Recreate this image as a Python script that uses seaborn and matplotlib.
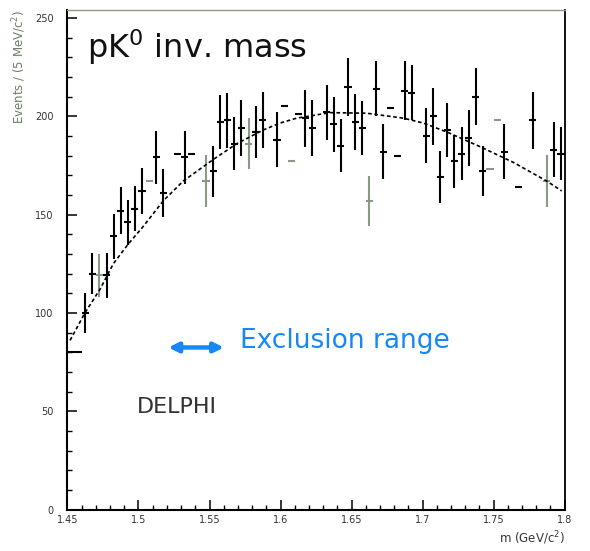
import numpy as np
import pandas as pd
import matplotlib
matplotlib.use("Agg")
import matplotlib.pyplot as plt
from matplotlib.ticker import MultipleLocator, FuncFormatter
import seaborn as sns

# ---- data ----
mass = [1.4525, 1.4575, 1.4625, 1.4675, 1.4725, 1.4775, 1.4825, 1.4875, 1.4925, 1.4975,
        1.5025, 1.5075, 1.5125, 1.5175, 1.5275, 1.5325, 1.5375, 1.5475, 1.5525, 1.5575,
        1.5625, 1.5675, 1.5725, 1.5775, 1.5825, 1.5875, 1.5975, 1.6025, 1.6075, 1.6125,
        1.6175, 1.6225, 1.6325, 1.6375, 1.6425, 1.6475, 1.6525, 1.6575, 1.6625, 1.6675,
        1.6725, 1.6775, 1.6825, 1.6875, 1.6925, 1.7025, 1.7075, 1.7125, 1.7175, 1.7225,
        1.7275, 1.7325, 1.7375, 1.7425, 1.7475, 1.7525, 1.7575, 1.7675, 1.7775, 1.7875,
        1.7925, 1.7975]
events = [80, 80, 100, 120, 119, 119, 139, 152, 146, 153,
          162, 167, 179, 161, 181, 179, 181, 167, 172, 197,
          198, 186, 194, 186, 192, 198, 188, 205, 177, 201,
          199, 194, 202, 196, 185, 215, 197, 194, 157, 214,
          182, 204, 180, 213, 212, 190, 200, 169, 193, 177,
          181, 189, 210, 172, 173, 198, 182, 164, 198, 167,
          183, 181]
errors = [0, 0, 10.2, 10.4, 11.0, 11.2, 11.5, 12.0, 11.5, 11.3,
          11.5, 0, 13.3, 12.3, 0, 13.5, 0, 13.3, 12.9, 13.6,
          14.0, 13.6, 14.2, 12.9, 13.3, 14.3, 14.0, 0, 0, 0,
          14.5, 14.2, 14.0, 14.0, 13.4, 14.8, 14.2, 13.9, 12.6, 14.0,
          14.0, 0, 0, 14.9, 14.0, 14.0, 14.5, 13.2, 13.9, 13.6,
          13.6, 14.1, 14.6, 12.8, 0, 0, 14.0, 0, 14.5, 13.3,
          14.0, 13.6]
faint_bins = [1.4725, 1.5075, 1.5475, 1.5775, 1.6075, 1.6625, 1.7475, 1.7525, 1.7875]

fit_mass = [1.4518, 1.4623, 1.4729, 1.4823, 1.4928, 1.5034, 1.5175, 1.5315, 1.5527, 1.5692,
            1.5879, 1.5997, 1.6114, 1.6349, 1.6607, 1.6865, 1.7006, 1.7170, 1.7405, 1.7640,
            1.7875, 1.7980]
fit_events = [86, 100, 112, 125, 135, 144, 157, 167, 178, 186,
              193, 196.5, 199, 201.8, 201.5, 199, 196.5, 192, 184.5, 176.5,
              167, 162]

x_ticks = [1.45, 1.5, 1.55, 1.6, 1.65, 1.7, 1.75, 1.8]
y_ticks = [0, 50, 100, 150, 200, 250]

# ---- style ----
sns.set_theme(style="white")
plt.rcParams["font.family"] = ["DejaVu Sans"]

FAINT = "#8a9a82"
BLUE = "#1787f5"

fig = plt.figure(figsize=(5.9, 5.51), dpi=100)
ax = fig.add_axes([0.1144, 0.0753, 0.8424, 0.9066])

df = pd.DataFrame({"mass": mass, "events": events, "err": errors})
df["faint"] = df["mass"].isin(faint_bins)

for is_faint, col in [(False, "black"), (True, FAINT)]:
    d = df[df["faint"] == is_faint]
    ax.errorbar(d["mass"], d["events"], xerr=0.0025, yerr=d["err"], fmt="none",
                ecolor=col, elinewidth=1.5, capsize=0, zorder=3)

sns.lineplot(x=fit_mass, y=fit_events, ax=ax, color="black", lw=1.2,
             linestyle=(0, (2.2, 1.6)), zorder=4)

ax.set_xlim(1.45, 1.8)
ax.set_ylim(0, 254)
ax.set_xticks(x_ticks)
ax.set_yticks(y_ticks)
ax.xaxis.set_major_formatter(FuncFormatter(lambda v, p: "%g" % round(v, 3)))
ax.xaxis.set_minor_locator(MultipleLocator(0.01))
ax.yaxis.set_minor_locator(MultipleLocator(10))
ax.tick_params(axis="both", which="both", direction="in", top=False, right=False,
               colors="black", labelcolor="#333333", labelsize=7)
ax.tick_params(axis="both", which="major", length=7, width=1.1)
ax.tick_params(axis="both", which="minor", length=3.5, width=1.0)
ax.tick_params(axis="y", which="both", left=True, pad=10)
ax.tick_params(axis="x", which="both", bottom=True, pad=4)

for side in ["left", "bottom"]:
    ax.spines[side].set_color("black")
    ax.spines[side].set_linewidth(1.5)
ax.spines["right"].set_color("black")
ax.spines["right"].set_linewidth(1.3)
ax.spines["top"].set_color(FAINT)
ax.spines["top"].set_linewidth(1.0)
ax.grid(False)
ax.set_xlabel("")
ax.set_ylabel("")

# texts
ax.text(0.039, 0.903, r"pK$^0$ inv. mass", transform=ax.transAxes, fontsize=23,
        color="#111111", ha="left", va="baseline")
ax.annotate("", xy=(1.5602, 82.4), xytext=(1.5210, 82.4),
            arrowprops=dict(arrowstyle="<|-|>", color=BLUE, lw=3.2, mutation_scale=14,
                            shrinkA=0, shrinkB=0))
ax.text(1.5715, 82, "Exclusion range", fontsize=19, color=BLUE, ha="left", va="baseline")
ax.text(1.4989, 49, "DELPHI", fontsize=16, color="#333333", ha="left", va="baseline")

fig.text(19 / 590, 1 - 10 / 551, r"Events / (5 MeV/c$^2$)", rotation=90, fontsize=8.5,
         color="#6b7d62", ha="center", va="top")
fig.text(565 / 590, 1 - 538 / 551, r"m (GeV/c$^2$)", fontsize=8.5, color="#333333",
         ha="right", va="center")

fig.savefig("out.png", dpi=100, facecolor="white")
